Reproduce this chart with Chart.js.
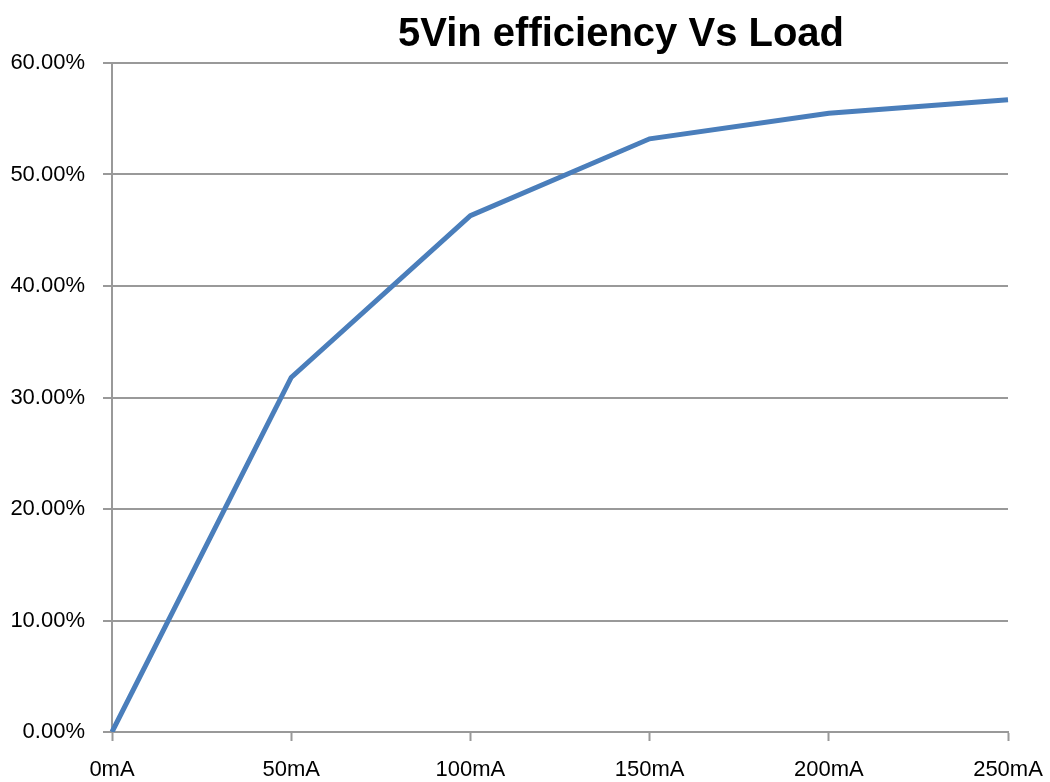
<!DOCTYPE html>
<html lang="en">
<head>
<meta charset="UTF-8" />
<title>5Vin efficiency Vs Load</title>
<style>
  html, body { margin: 0; padding: 0; background: #fff; }
  #wrap { width: 1050px; height: 782px; }
</style>
</head>
<body>
<div id="wrap"><canvas id="chart" width="1050" height="782"></canvas></div>
<script src="https://cdn.jsdelivr.net/npm/chart.js@4.4.0/dist/chart.umd.min.js"></script>
<script>
  // data
  const loads = ['0mA', '50mA', '100mA', '150mA', '200mA', '250mA'];
  const efficiency = [0.0, 31.8, 46.3, 53.2, 55.5, 56.7];
  const yTicks = [0, 10, 20, 30, 40, 50, 60];
  const titleText = '5Vin efficiency Vs Load';

  // title sits a bit right of centre in the original, draw it ourselves
  const titlePlugin = {
    id: 'offsetTitle',
    afterDraw(chart) {
      const c = chart.ctx;
      c.save();
      c.font = 'bold 40px "Liberation Sans", Arial, sans-serif';
      c.fillStyle = '#000';
      c.textAlign = 'center';
      c.textBaseline = 'middle';
      c.fillText(titleText, 621, 35);
      c.restore();
    }
  };

  new Chart(document.getElementById('chart'), {
    type: 'line',
    data: {
      labels: loads,
      datasets: [{
        data: efficiency,
        borderColor: '#4a7ebb',
        borderWidth: 5,
        pointRadius: 0,
        tension: 0,
        fill: false
      }]
    },
    options: {
      responsive: false,
      animation: false,
      layout: { padding: { top: 63, right: 42, left: 0, bottom: 0 } },
      plugins: {
        legend: { display: false },
        title: { display: false },
        tooltip: { enabled: false }
      },
      scales: {
        x: {
          offset: false,
          grid: { display: true, drawOnChartArea: false, drawTicks: true, tickLength: 9, tickColor: '#999', tickWidth: 2 },
          border: { display: true, color: '#999', width: 2 },
          ticks: {
            padding: 16,
            color: '#000',
            maxRotation: 0,
            autoSkip: false,
            font: { family: '"Liberation Sans", Arial, sans-serif', size: 22 }
          },
          afterFit(scale) {
            scale.height = 50;
            // let the last label hang into the right margin like the original
            scale.paddingRight = 0;
            scale.paddingLeft = 0;
          }
        },
        y: {
          min: 0,
          max: 60,
          afterBuildTicks(scale) { scale.ticks = yTicks.map(v => ({ value: v })); },
          grid: { color: '#999', lineWidth: 2, tickLength: 9, tickColor: '#999' },
          border: { display: true, color: '#999', width: 2 },
          ticks: {
            padding: 18,
            color: '#000',
            font: { family: '"Liberation Sans", Arial, sans-serif', size: 22 },
            callback: v => v.toFixed(2) + '%'
          },
          afterFit(scale) { scale.width = 112; }
        }
      }
    },
    plugins: [titlePlugin]
  });
</script>
</body>
</html>
